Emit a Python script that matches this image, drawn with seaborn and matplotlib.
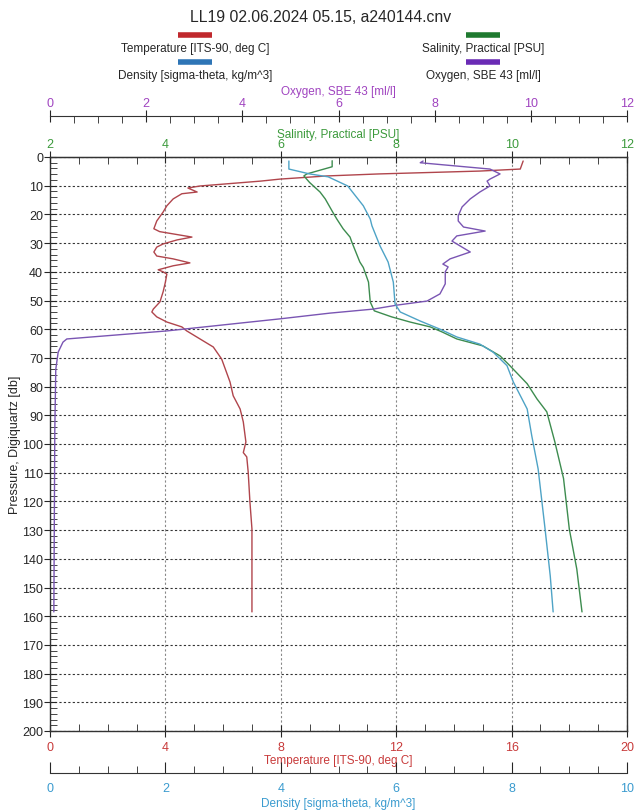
import numpy as np
import pandas as pd
import seaborn as sns
import matplotlib.pyplot as plt
from matplotlib.lines import Line2D
from matplotlib.ticker import MultipleLocator

p_temp = [1.4, 4.2, 4.9, 5.9, 6.6, 7.7, 8.4, 10.1, 10.8, 12.2, 12.8, 14.6, 17.0, 19.2,
          22.3, 25.0, 26.0, 27.9, 28.9, 30.3, 31.4, 33.1, 34.5, 35.5, 36.9, 37.9, 39.3,
          40.0, 40.8, 43.6, 47.0, 50.5, 53.0, 54.0, 55.7, 57.5, 59.2, 60.6, 63.4, 66.2,
          70.4, 78.4, 83.2, 87.8, 92.3, 99.3, 103.0, 104.5, 109.8, 120.2, 129.6, 141.0, 158.5]
temperature = [16.4, 16.3, 14.9, 11.4, 9.6, 7.97, 7.3, 5.2, 4.78, 5.1, 4.57, 4.27, 4.05, 3.92,
               3.7, 3.6, 3.8, 4.92, 4.4, 3.92, 3.7, 3.6, 3.7, 4.27, 4.85, 4.27, 3.75,
               3.92, 4.05, 4.0, 3.92, 3.81, 3.58, 3.53, 3.7, 4.05, 4.57, 4.74, 5.2, 5.66,
               5.95, 6.24, 6.35, 6.59, 6.7, 6.79, 6.7, 6.82, 6.87, 6.93, 7.0, 7.0, 7.0]

p_sal = [1.3, 3.4, 5.9, 6.6, 8.9, 12.2, 14.6, 19.2, 21.6, 25.0, 27.9, 29.6, 36.6, 38.5,
         43.6, 50.5, 53.6, 55.7, 57.5, 59.2, 61.0, 63.4, 65.8, 69.3, 72.7, 79.0, 84.3,
         88.8, 99.3, 112.0, 129.6, 143.6, 158.5]
salinity = [6.89, 6.89, 6.45, 6.4, 6.5, 6.68, 6.77, 6.9, 6.97, 7.08, 7.2, 7.23, 7.37, 7.43,
            7.52, 7.55, 7.62, 7.92, 8.24, 8.59, 8.8, 9.05, 9.5, 9.8, 9.97, 10.27, 10.44,
            10.61, 10.75, 10.9, 11.0, 11.13, 11.22]

p_dens = [1.4, 4.2, 5.9, 6.9, 10.1, 17.0, 21.6, 24.0, 31.0, 36.6, 43.6, 51.2, 54.0, 57.1,
          60.0, 62.7, 65.2, 68.0, 72.7, 78.4, 87.8, 97.2, 108.7, 129.6, 146.0, 158.5]
density = [4.14, 4.14, 4.5, 4.82, 5.16, 5.43, 5.55, 5.58, 5.72, 5.86, 5.95, 5.98, 6.07, 6.41,
           6.76, 7.05, 7.45, 7.68, 7.92, 8.03, 8.27, 8.35, 8.46, 8.58, 8.67, 8.72]

p_oxy = [1.4, 2.0, 4.2, 5.9, 7.7, 8.4, 10.1, 12.2, 14.6, 17.4, 20.5, 22.3, 24.4, 25.8,
         27.5, 29.3, 30.3, 33.1, 35.5, 37.3, 38.3, 40.0, 44.2, 47.7, 50.2, 51.6, 53.0,
         54.4, 56.4, 60.6, 63.4, 64.5, 68.0, 74.0, 95.0, 158.5]
oxygen = [7.76, 7.7, 9.15, 9.36, 9.15, 9.09, 9.15, 8.94, 8.74, 8.57, 8.49, 8.49, 8.6, 9.05,
          8.46, 8.36, 8.46, 8.74, 8.32, 8.17, 8.28, 8.22, 8.22, 8.11, 7.84, 7.22, 6.72,
          5.82, 4.78, 2.43, 0.35, 0.27, 0.17, 0.12, 0.1, 0.08]

title = "LL19 02.06.2024 05.15, a240144.cnv"

sns.set_style("ticks")
plt.rcParams['font.family'] = ['Liberation Sans', 'DejaVu Sans']

W, H = 642, 812
fig = plt.figure(figsize=(W / 100, H / 100), dpi=100)
ax = fig.add_axes([50 / W, 80 / H, 577 / W, 574 / H])

c_temp, c_sal, c_dens, c_oxy = '#b0454c', '#3d8c4f', '#4ea3c6', '#7a55b3'
t_temp, t_sal, t_dens, t_oxy = '#c83a3a', '#3c9a3c', '#3a9bcf', '#a044c0'

# temperatura (eixo principal)
sns.lineplot(x=temperature, y=p_temp, sort=False, estimator=None, color=c_temp, lw=1, ax=ax)
ax.set_xlim(0, 20)
ax.set_ylim(200, 0)
ax.set_xticks(range(0, 21, 4))
ax.xaxis.set_minor_locator(MultipleLocator(1))
ax.set_yticks(range(0, 201, 10))
ax.yaxis.set_minor_locator(MultipleLocator(2))
ax.grid(axis='y', which='major', linestyle=(0, (2, 2)), color='#333333', lw=0.8)
ax.grid(axis='x', which='major', linestyle=(0, (2, 2)), color='#888888', lw=0.8)
ax.set_axisbelow(True)
ax.tick_params(axis='y', which='major', direction='inout', length=8, labelsize=9, pad=1)
ax.tick_params(axis='y', which='minor', direction='in', length=5)
ax.tick_params(axis='x', which='major', direction='inout', length=8, labelsize=9,
               labelcolor=t_temp, pad=3)
ax.tick_params(axis='x', which='minor', direction='in', length=5)
ax.set_xlabel("Temperature [ITS-90, deg C]", color=t_temp, fontsize=8.5, labelpad=1)
ax.set_ylabel("Pressure, Digiquartz [db]", fontsize=9, labelpad=0.5)
for s in ax.spines.values():
    s.set_color('#333333')
    s.set_linewidth(1)

# salinidade (topo)
ax_s = ax.twiny()
sns.lineplot(x=salinity, y=p_sal, sort=False, estimator=None, color=c_sal, lw=1, ax=ax_s)
ax_s.set_xlim(2, 12)
ax_s.set_xticks(range(2, 13, 2))
ax_s.xaxis.set_minor_locator(MultipleLocator(0.5))
ax_s.tick_params(axis='x', which='major', direction='inout', length=8, labelsize=9,
                 labelcolor=t_sal, pad=1)
ax_s.tick_params(axis='x', which='minor', direction='in', length=5)
ax_s.set_xlabel("Salinity, Practical [PSU]", color=t_sal, fontsize=8.5, labelpad=1)
for k in ['left', 'right', 'bottom']:
    ax_s.spines[k].set_visible(False)

# oxigenio (topo, deslocado)
ax_o = ax.twiny()
sns.lineplot(x=oxygen, y=p_oxy, sort=False, estimator=None, color=c_oxy, lw=1, ax=ax_o)
ax_o.set_xlim(0, 12)
ax_o.set_xticks(range(0, 13, 2))
ax_o.xaxis.set_minor_locator(MultipleLocator(0.5))
ax_o.spines['top'].set_position(('outward', 29.5))
ax_o.tick_params(axis='x', which='major', direction='inout', length=8, labelsize=9,
                 labelcolor=t_oxy, pad=1)
ax_o.tick_params(axis='x', which='minor', direction='in', length=5)
ax_o.set_xlabel("Oxygen, SBE 43 [ml/l]", color=t_oxy, fontsize=8.5, labelpad=2)
for k in ['left', 'right', 'bottom']:
    ax_o.spines[k].set_visible(False)

# densidade (base, deslocado)
ax_d = ax.twiny()
sns.lineplot(x=density, y=p_dens, sort=False, estimator=None, color=c_dens, lw=1, ax=ax_d)
ax_d.set_xlim(0, 10)
ax_d.set_xticks(range(0, 11, 2))
ax_d.xaxis.set_minor_locator(MultipleLocator(0.5))
ax_d.xaxis.set_ticks_position('bottom')
ax_d.xaxis.set_label_position('bottom')
ax_d.spines['bottom'].set_position(('outward', 30))
ax_d.spines['bottom'].set_visible(True)
for k in ['left', 'right', 'top']:
    ax_d.spines[k].set_visible(False)
ax_d.tick_params(axis='x', which='major', direction='in', length=8, labelsize=9,
                 labelcolor=t_dens, pad=7)
ax_d.tick_params(axis='x', which='minor', direction='in', length=5)
ax_d.set_xlabel("Density [sigma-theta, kg/m^3]", color=t_dens, fontsize=8.5, labelpad=2)

for a in (ax_s, ax_o, ax_d):
    a.set_ylim(200, 0)
    for s in a.spines.values():
        s.set_color('#333333')

# titulo e legenda
fig.text(0.5, 1 - 18 / H, title, ha='center', va='center', fontsize=11.3)
legend_items = [("Temperature [ITS-90, deg C]", '#c0282d', 195, 36),
                ("Density [sigma-theta, kg/m^3]", '#2e75b6', 195, 63),
                ("Salinity, Practical [PSU]", '#1f7a30', 483, 36),
                ("Oxygen, SBE 43 [ml/l]", '#6a2bb5', 483, 63)]
for lab, col, cx, cy in legend_items:
    fig.add_artist(Line2D([(cx - 17) / W, (cx + 17) / W], [1 - cy / H, 1 - cy / H],
                          color=col, lw=4, solid_capstyle='butt'))
    fig.text(cx / W, 1 - (cy + 13) / H, lab, ha='center', va='center', fontsize=8.5)

plt.savefig("out.png", dpi=100)
plt.close()
